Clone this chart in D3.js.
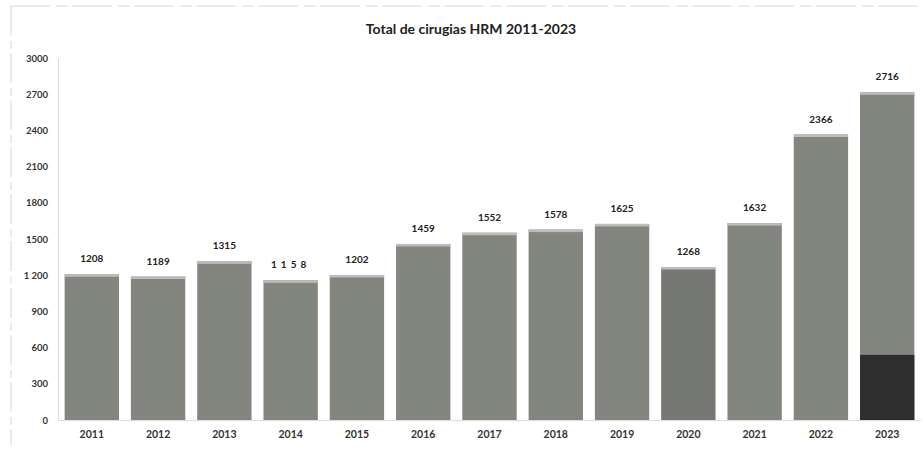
<!DOCTYPE html>
<html>
<head>
<meta charset="utf-8">
<script src="https://cdn.jsdelivr.net/npm/d3@7"></script>
<style>
  body { margin: 0; background: #fff; }
  svg { display: block; }
  text { font-family: Lato, "Open Sans", sans-serif; fill: #222; }
</style>
</head>
<body>
<svg id="chart" width="923" height="450"></svg>
<script>
// chart values
var years = ["2011","2012","2013","2014","2015","2016","2017","2018","2019","2020","2021","2022","2023"];
var totals = [1208, 1189, 1315, 1158, 1202, 1459, 1552, 1578, 1625, 1268, 1632, 2366, 2716];
// dark lower block seen on the 2023 bar
var darkPart = [0, 0, 0, 0, 0, 0, 0, 0, 0, 0, 0, 0, 540];
var yTicks = [0, 300, 600, 900, 1200, 1500, 1800, 2100, 2400, 2700, 3000];
var yTickLabels = ["0", "300", "600", "900", "1 200", "1500", "1800", "2100", "2400", "2700", "3000"];

var svg = d3.select("#chart");
var margin = {left: 58, right: 2, top: 58, bottom: 30};
var width = 923, height = 450;

var x = d3.scaleBand().domain(years).range([margin.left, width - margin.right]).paddingInner(0.18).paddingOuter(0.1);
var y = d3.scaleLinear().domain([0, 3000]).range([height - margin.bottom, margin.top]);

// faint scan borders
svg.append("line").attr("x1", 10).attr("x2", 923).attr("y1", 6).attr("y2", 6)
    .attr("stroke", "#e6e6e6").attr("stroke-width", 1.5).attr("stroke-dasharray", "40,6,12,4");
svg.append("line").attr("x1", 11).attr("x2", 11).attr("y1", 6).attr("y2", 445)
    .attr("stroke", "#e4e4e4").attr("stroke-width", 1.5).attr("stroke-dasharray", "30,5,8,4");

// title
svg.append("text").attr("x", 471).attr("y", 34).attr("text-anchor", "middle")
    .style("font-size", "14px").style("font-weight", "bold").text("Total de cirugias HRM 2011-2023");

// y axis
var yAxis = d3.axisLeft(y).tickValues(yTicks).tickSize(0).tickPadding(10)
    .tickFormat(function(d, i){ return yTickLabels[i]; });
var yG = svg.append("g").attr("transform", "translate(" + margin.left + ",0)").call(yAxis);
yG.select(".domain").attr("stroke", "#d8d8d8");
yG.selectAll("text").style("font-size", "9.5px").style("font-weight", "bold").style("fill", "#333");

// x axis
var xAxis = d3.axisBottom(x).tickSize(0).tickPadding(11);
var xG = svg.append("g").attr("transform", "translate(0," + y(0) + ")").call(xAxis);
xG.select(".domain").attr("stroke", "#dcdcdc");
xG.selectAll("text").style("font-size", "10.5px").style("font-weight", "bold").style("fill", "#333");

// bars
var bars = svg.append("g").selectAll("g").data(years).enter().append("g");
bars.append("rect")
    .attr("x", function(d){ return x(d); })
    .attr("width", x.bandwidth())
    .attr("y", function(d, i){ return y(totals[i]); })
    .attr("height", function(d, i){ return y(0) - y(totals[i]); })
    .attr("fill", function(d, i){ return i == 9 ? "#767873" : "#83857f"; });
// light top edge
bars.append("rect")
    .attr("x", function(d){ return x(d); })
    .attr("width", x.bandwidth())
    .attr("y", function(d, i){ return y(totals[i]); })
    .attr("height", 2.5)
    .attr("fill", "#bdbebb");
bars.filter(function(d, i){ return darkPart[i] > 0; }).append("rect")
    .attr("x", function(d){ return x(d); })
    .attr("width", x.bandwidth())
    .attr("y", function(d){ return y(darkPart[years.indexOf(d)]); })
    .attr("height", function(d){ return y(0) - y(darkPart[years.indexOf(d)]); })
    .attr("fill", "#2e2e2e");

// value labels
bars.append("text")
    .attr("x", function(d){ return x(d) + x.bandwidth() / 2; })
    .attr("y", function(d, i){ return y(totals[i]) - 12; })
    .attr("text-anchor", "middle")
    .style("font-size", "10px").style("font-weight", "bold")
    .style("letter-spacing", function(d, i){ return i == 3 ? "4px" : "0px"; })
    .text(function(d, i){ return totals[i]; });
</script>
</body>
</html>
